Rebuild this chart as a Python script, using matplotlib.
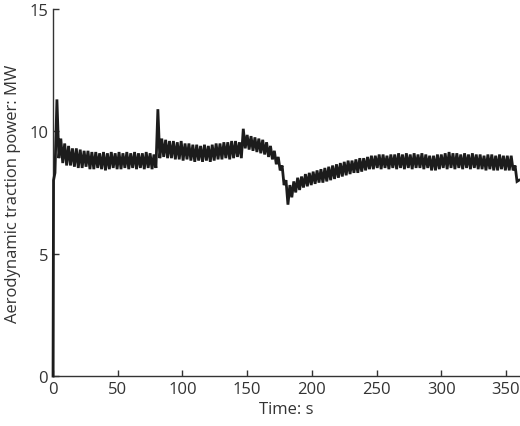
import numpy as np
import matplotlib
matplotlib.use("Agg")
import matplotlib.pyplot as plt

plt.rcParams['font.family'] = ['Open Sans', 'DejaVu Sans']

# Start-up of the trace (s, MW)
start_time_s = [0.0, 0.4]
start_power_mw = [0.0, 8.0]

# Remaining trace, sampled every 1.5 s from t = 1.5 s (MW)
time_step = 1.5
power_mw = [
    # t = 1.5 .. 30
    8.3, 11.3, 8.9, 9.7, 8.7, 9.5, 8.6, 9.4, 8.6, 9.3, 8.55, 9.3, 8.5, 9.25, 8.5, 9.2, 8.55, 9.2, 8.45, 9.15,
    # t = 31.5 .. 79.5
    8.45, 9.15, 8.5, 9.1, 8.45, 9.15, 8.4, 9.1, 8.45, 9.15, 8.5, 9.1, 8.45, 9.15, 8.45, 9.1, 8.5,
    9.15, 8.45, 9.1, 8.5, 9.15, 8.45, 9.1, 8.5, 9.1, 8.45, 9.15, 8.5, 9.1, 8.45, 9.05, 8.5,
    # t = 81 .. 145.5
    10.9, 8.9, 9.7, 8.95, 9.65, 8.9, 9.6, 8.9, 9.6, 8.85, 9.55, 8.85, 9.6, 8.8, 9.5, 8.85, 9.5,
    8.8, 9.45, 8.75, 9.45, 8.8, 9.4, 8.75, 9.45, 8.8, 9.4, 8.75, 9.45, 8.8, 9.5, 8.85, 9.5,
    8.85, 9.55, 8.9, 9.55, 8.85, 9.6, 8.9, 9.6, 8.95, 9.55, 8.9,
    # t = 147 .. 178.5
    10.1, 9.3, 9.85, 9.25, 9.8, 9.2, 9.75, 9.15, 9.7, 9.1, 9.65, 9.05, 9.55, 8.95, 9.4, 8.85,
    9.2, 8.65, 8.95, 8.4, 8.6, 7.8,
    # t = 180 .. 268.5
    8.0, 7.0, 7.8, 7.3, 7.95, 7.5, 8.1, 7.6, 8.15, 7.7, 8.25, 7.75, 8.3, 7.8, 8.35, 7.85,
    8.4, 7.9, 8.45, 7.9, 8.5, 7.95, 8.55, 8.0, 8.6, 8.05, 8.65, 8.1, 8.7, 8.15, 8.75, 8.2,
    8.8, 8.25, 8.8, 8.3, 8.85, 8.3, 8.9, 8.35, 8.9, 8.4, 8.95, 8.45, 9.0, 8.45, 9.0, 8.5,
    9.05, 8.45, 9.05, 8.5, 9.0, 8.45, 9.05, 8.5, 9.05, 8.45, 9.1, 8.5,
    # t = 270 .. 354
    9.05, 8.45, 9.1, 8.5, 9.05, 8.45, 9.1, 8.5, 9.05, 8.5, 9.1, 8.45, 9.05, 8.5, 9.0, 8.4,
    9.0, 8.4, 9.05, 8.45, 9.05, 8.5, 9.1, 8.45, 9.15, 8.5, 9.1, 8.45, 9.1, 8.5, 9.05, 8.45,
    9.1, 8.5, 9.05, 8.45, 9.1, 8.5, 9.05, 8.45, 9.05, 8.45, 9.0, 8.4, 9.05, 8.45, 9.05, 8.4,
    9.0, 8.4, 9.05, 8.45, 9.0, 8.4, 9.0, 8.4, 9.0,
    # t = 355.5 .. 360
    8.4, 8.6, 7.95, 8.0,
]
time_s = np.concatenate([start_time_s, (np.arange(len(power_mw)) + 1) * time_step])
all_power = np.concatenate([start_power_mw, power_mw])

x_ticks = [0, 50, 100, 150, 200, 250, 300, 350]
y_ticks = [0, 5, 10, 15]

fig = plt.figure(figsize=(5.2, 4.27), dpi=100)
ax = fig.add_axes([0.102, 0.117, 0.896, 0.860])
ax.plot(time_s, all_power, color='#1c1c1c', linewidth=2.0, solid_joinstyle='miter',
        zorder=3, clip_on=False)

ax.set_xlim(0, 360)
ax.set_ylim(0, 15)
ax.set_xticks(x_ticks)
ax.set_yticks(y_ticks)
for s in ['top', 'right']:
    ax.spines[s].set_visible(False)
for s in ['left', 'bottom']:
    ax.spines[s].set_color('#333333')
    ax.spines[s].set_linewidth(1.0)
ax.tick_params(direction='in', length=4, width=1, colors='#333333', labelsize=12,
               labelcolor='#333333')
ax.set_xlabel('Time: s', fontsize=12, color='#333333', labelpad=3)
ax.set_ylabel('Aerodynamic traction power: MW', fontsize=12, color='#333333', labelpad=6)

fig.savefig('out.png', dpi=100)
